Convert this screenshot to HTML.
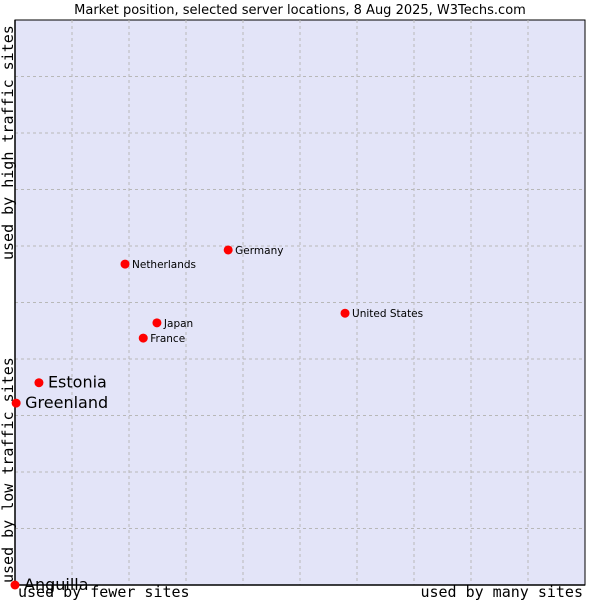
<!DOCTYPE html>
<html><head><meta charset="utf-8"><style>
body{margin:0;background:#fff;width:600px;height:600px;overflow:hidden}
text{font-family:"DejaVu Sans","Liberation Sans",sans-serif}
.mono{font-family:"DejaVu Sans Mono","Liberation Mono",monospace}
</style></head><body>
<svg id="chart" width="600" height="600">
<text x="300" y="14" text-anchor="middle" font-size="13">Market position, selected server locations, 8 Aug 2025, W3Techs.com</text>
<rect x="15" y="20" width="570" height="565" fill="#e3e4f8" stroke="#000" stroke-width="1"/>
<g id="grid"></g>
<line x1="15" y1="20" x2="15" y2="585" stroke="#000" stroke-width="1.5"/>
<line x1="15" y1="585" x2="585" y2="585" stroke="#000" stroke-width="1.5"/>
<g id="points"></g>
<text class="mono" x="18" y="597" font-size="15">used by fewer sites</text>
<text class="mono" x="583" y="597" font-size="15" text-anchor="end">used by many sites</text>
<text class="mono" transform="translate(13,583) rotate(-90)" font-size="15">used by low traffic sites</text>
<text class="mono" transform="translate(13,260) rotate(-90)" font-size="15">used by high traffic sites</text>
</svg>
<script>
const names=["Germany","Netherlands","United States","Japan","France","Estonia","Greenland","Anguilla"];
const xVals=[37.4,19.3,57.9,24.9,22.5,4.2,0.2,0];
const yVals=[59.3,56.8,48.1,46.4,43.7,35.8,32.2,0];
const big=[false,false,false,false,false,true,true,true];
const L=15,R=585,T=20,B=585;
const xs=v=>L+v/100*(R-L), ys=v=>B-v/100*(B-T);
const ns="http://www.w3.org/2000/svg";
const g=document.getElementById('grid');
for(let i=1;i<10;i++){
 const a=document.createElementNS(ns,'line');
 a.setAttribute('x1',xs(i*10));a.setAttribute('x2',xs(i*10));a.setAttribute('y1',T);a.setAttribute('y2',B);
 a.setAttribute('stroke','#b8b8b8');a.setAttribute('stroke-dasharray','3,3');
 
 
 g.appendChild(a);
 const b=document.createElementNS(ns,'line');
 b.setAttribute('y1',ys(i*10));b.setAttribute('y2',ys(i*10));b.setAttribute('x1',L);b.setAttribute('x2',R);
 b.setAttribute('stroke','#b8b8b8');b.setAttribute('stroke-dasharray','3,3');
 
 
 g.appendChild(b);
}
const p=document.getElementById('points');
names.forEach((n,i)=>{
 const cx=xs(xVals[i]),cy=ys(yVals[i]);
 const c=document.createElementNS(ns,'circle');
 c.setAttribute('cx',cx);c.setAttribute('cy',cy);c.setAttribute('r',4.5);c.setAttribute('fill','#f00');
 
 
 p.appendChild(c);
 const t=document.createElementNS(ns,'text');
 t.setAttribute('x',cx+(big[i]?9:7));t.setAttribute('y',cy+(big[i]?5:4));
 t.setAttribute('font-size',big[i]?16:10.5);
 t.textContent=n;
 
 
 p.appendChild(t);
});
</script>
</body></html>
